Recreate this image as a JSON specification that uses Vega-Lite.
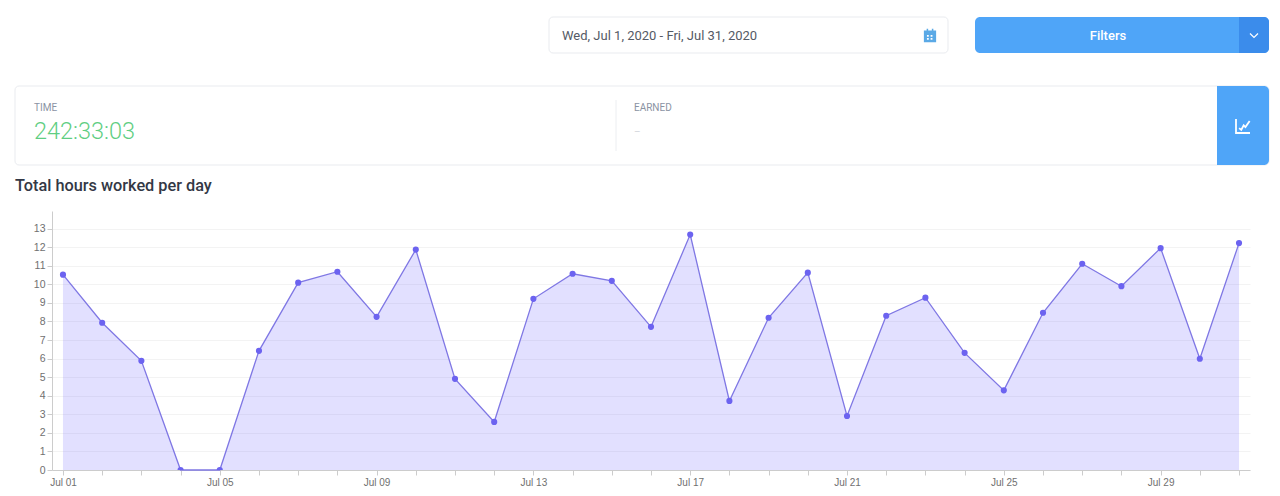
{
  "$schema": "https://vega.github.io/schema/vega-lite/v6.json",
  "autosize": {"type": "none"},
  "padding": {"left": 52, "top": 211, "right": 30, "bottom": 26},
  "width": 1198,
  "height": 259,
  "background": "#ffffff",
  "config": {"view": {"stroke": null}},
  "datasets": {
    "hours": [
      {"day": "Jul 01", "hours": 10.52},{"day": "Jul 02", "hours": 7.93},{"day": "Jul 03", "hours": 5.88},{"day": "Jul 04", "hours": 0},
      {"day": "Jul 05", "hours": 0},{"day": "Jul 06", "hours": 6.42},{"day": "Jul 07", "hours": 10.09},{"day": "Jul 08", "hours": 10.68},
      {"day": "Jul 09", "hours": 8.25},{"day": "Jul 10", "hours": 11.87},{"day": "Jul 11", "hours": 4.91},{"day": "Jul 12", "hours": 2.59},
      {"day": "Jul 13", "hours": 9.22},{"day": "Jul 14", "hours": 10.57},{"day": "Jul 15", "hours": 10.19},{"day": "Jul 16", "hours": 7.71},
      {"day": "Jul 17", "hours": 12.68},{"day": "Jul 18", "hours": 3.72},{"day": "Jul 19", "hours": 8.2},{"day": "Jul 20", "hours": 10.63},
      {"day": "Jul 21", "hours": 2.91},{"day": "Jul 22", "hours": 8.31},{"day": "Jul 23", "hours": 9.28},{"day": "Jul 24", "hours": 6.31},
      {"day": "Jul 25", "hours": 4.29},{"day": "Jul 26", "hours": 8.47},{"day": "Jul 27", "hours": 11.11},{"day": "Jul 28", "hours": 9.9},
      {"day": "Jul 29", "hours": 11.95},{"day": "Jul 30", "hours": 5.99},{"day": "Jul 31", "hours": 12.22}
    ]
  },
  "resolve": {"scale": {"x": "independent", "y": "independent"}, "axis": {"x": "independent", "y": "independent"}},
  "layer": [
    {
      "data": {"name": "hours"},
      "encoding": {
        "x": {
          "field": "day", "type": "ordinal", "sort": null,
          "scale": {"type": "point", "padding": 0.28},
          "axis": {
            "title": null, "labelAngle": 0, "labelOverlap": false, "grid": false,
            "labelExpr": "(parseInt(substring(datum.label,4))-1)%4==0 ? datum.label : ''",
            "domainColor": "#cccccc", "tickColor": "#cccccc", "tickSize": 5,
            "labelColor": "#707070", "labelFont": "Liberation Sans", "labelFontSize": 10
          }
        },
        "y": {
          "field": "hours", "type": "quantitative",
          "scale": {"domain": [0, 13.95], "nice": false, "zero": false},
          "axis": {
            "title": null, "values": [0,1,2,3,4,5,6,7,8,9,10,11,12,13], "format": "d",
            "grid": true, "gridColor": "#f3f3f3", "domainColor": "#cccccc", "tickColor": "#cccccc", "tickSize": 5,
            "labelColor": "#707070", "labelFont": "Liberation Sans", "labelFontSize": 10.5
          }
        }
      },
      "layer": [
        {"mark": {"type": "area", "color": "#6c63ff", "opacity": 0.2}},
        {"mark": {"type": "line", "color": "#7f77e4", "strokeWidth": 1.3}},
        {"mark": {"type": "circle", "color": "#6c63f0", "opacity": 1, "size": 38, "clip": true}}
      ]
    },
    {
      "encoding": {
        "x": {
          "field": "col", "type": "quantitative", "axis": null,
          "scale": {
            "domain": [0,1,2,3,4,5,6,7,8,9,10,11,12,13,14],
            "range": [-37,-18,497,510,564,582,878,896,923,1056,1165,1187,1191,1202,1217],
            "nice": false, "zero": false
          }
        },
        "y": {
          "field": "row", "type": "quantitative", "axis": null,
          "scale": {
            "domain": [0,1,2,3,4,5,6,7,8,9,10],
            "range": [-194,-175.5,-158,-125,-111,-103,-85,-79,-60,-46,-25],
            "nice": false, "zero": false
          }
        }
      },
      "layer": [
        {
          "data": {"values": [
            {"item": "date range", "col": 2, "col2": 7, "row": 0, "row2": 2},
            {"item": "stats card", "col": 0, "col2": 14, "row": 3, "row2": 9}
          ]},
          "mark": {"type": "rect", "fill": "#ffffff", "stroke": "#e9ebef", "strokeWidth": 1, "cornerRadius": 4},
          "encoding": {"x2": {"field": "col2"}, "y2": {"field": "row2"}}
        },
        {
          "data": {"values": [{"item": "filters", "col": 8, "col2": 14, "row": 0, "row2": 2}]},
          "mark": {"type": "rect", "fill": "#4fa5f8", "cornerRadius": 5},
          "encoding": {"x2": {"field": "col2"}, "y2": {"field": "row2"}}
        },
        {
          "data": {"values": [{"item": "filters menu", "col": 11, "col2": 14, "row": 0, "row2": 2}]},
          "mark": {"type": "rect", "fill": "#3b8ceb", "cornerRadiusTopRight": 5, "cornerRadiusBottomRight": 5},
          "encoding": {"x2": {"field": "col2"}, "y2": {"field": "row2"}}
        },
        {
          "data": {"values": [{"item": "chart toggle", "col": 10, "col2": 14, "row": 3, "row2": 9}]},
          "mark": {"type": "rect", "fill": "#4fa5f8", "cornerRadiusTopRight": 5, "cornerRadiusBottomRight": 5},
          "encoding": {"x2": {"field": "col2"}, "y2": {"field": "row2"}}
        },
        {
          "data": {"values": [{"item": "divider", "col": 4, "row": 4, "row2": 8}]},
          "mark": {"type": "rule", "color": "#eceef1", "strokeWidth": 1},
          "encoding": {"y2": {"field": "row2"}}
        },
        {
          "data": {"values": [{"item": "calendar", "col": 6, "row": 1}]},
          "mark": {"type": "point", "filled": true, "opacity": 1, "color": "#5aa9e6", "size": 150,
            "shape": "M-1,-0.8 H-0.55 V-1.1 H-0.3 V-0.8 H0.3 V-1.1 H0.55 V-0.8 H1 V1.1 H-1 Z M-0.5,-0.1 V0.2 H-0.2 V-0.1 Z M0.1,-0.1 V0.2 H0.4 V-0.1 Z M-0.5,0.4 V0.7 H-0.2 V0.4 Z M0.1,0.4 V0.7 H0.4 V0.4 Z"}
        },
        {
          "data": {"values": [{"item": "chevron", "col": 13, "row": 1}]},
          "mark": {"type": "point", "filled": false, "opacity": 1, "color": "#ffffff", "strokeWidth": 1.2, "size": 64,
            "shape": "M-1,-0.5 L0,0.5 L1,-0.5"}
        },
        {
          "data": {"values": [{"item": "chart icon", "col": 12, "row": 6}]},
          "mark": {"type": "point", "filled": false, "opacity": 1, "color": "#ffffff", "strokeWidth": 1.8, "size": 196,
            "shape": "M-1,-1 L-1,1 L1,1 M-0.55,0.3 L-0.25,0.55 L0.1,-0.1 L0.35,0.15 L0.95,-0.7"}
        },
        {
          "data": {"values": [{"label": "Wed, Jul 1, 2020 - Fri, Jul 31, 2020", "col": 3, "row": 1}]},
          "mark": {"type": "text", "align": "left", "baseline": "middle", "font": "Roboto", "fontSize": 13, "color": "#555a65"},
          "encoding": {"text": {"field": "label"}}
        },
        {
          "data": {"values": [{"label": "Filters", "col": 9, "row": 1}]},
          "mark": {"type": "text", "align": "center", "baseline": "middle", "font": "Roboto", "fontSize": 13, "fontWeight": 500, "color": "#ffffff"},
          "encoding": {"text": {"field": "label"}}
        },
        {
          "data": {"values": [{"label": "TIME", "col": 1, "row": 5}, {"label": "EARNED", "col": 5, "row": 5}]},
          "mark": {"type": "text", "align": "left", "baseline": "middle", "font": "Roboto", "fontSize": 10, "color": "#8a93a3"},
          "encoding": {"text": {"field": "label"}}
        },
        {
          "data": {"values": [{"label": "242:33:03", "col": 1, "row": 7}]},
          "mark": {"type": "text", "align": "left", "baseline": "middle", "font": "Roboto", "fontSize": 23.5, "fontWeight": 300, "color": "#5fce82"},
          "encoding": {"text": {"field": "label"}}
        },
        {
          "data": {"values": [{"label": "–", "col": 5, "row": 7}]},
          "mark": {"type": "text", "align": "left", "baseline": "middle", "font": "Roboto", "fontSize": 10, "color": "#d5d8dd"},
          "encoding": {"text": {"field": "label"}}
        },
        {
          "data": {"values": [{"label": "Total hours worked per day", "col": 0, "row": 10}]},
          "mark": {"type": "text", "align": "left", "baseline": "middle", "font": "Roboto", "fontSize": 16.3, "fontWeight": 500, "color": "#333845"},
          "encoding": {"text": {"field": "label"}}
        }
      ]
    }
  ]
}
